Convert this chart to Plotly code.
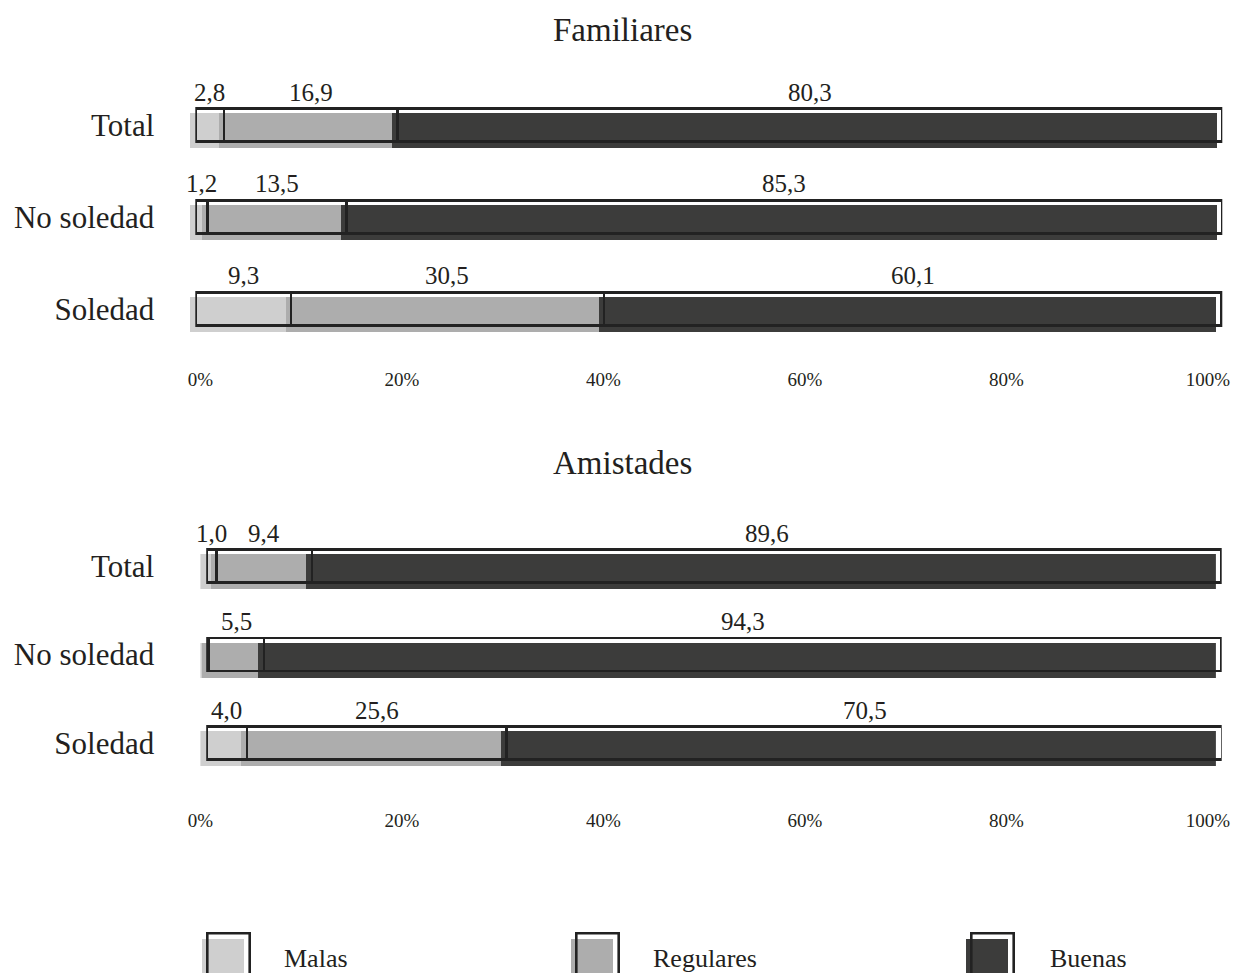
import plotly.graph_objects as go

# ---- data -------------------------------------------------------------
categories = ["Total", "No soledad", "Soledad"]
levels = ["Malas", "Regulares", "Buenas"]

fam_malas = [2.8, 1.2, 9.3]
fam_regulares = [16.9, 13.5, 30.5]
fam_buenas = [80.3, 85.3, 60.1]

ami_malas = [1.0, 0.2, 4.0]
ami_regulares = [9.4, 5.5, 25.6]
ami_buenas = [89.6, 94.3, 70.5]

tick_vals = [0, 20, 40, 60, 80, 100]
tick_text = ["0%", "20%", "40%", "60%", "80%", "100%"]

panel_titles = ["Familiares", "Amistades"]

# ---- style ------------------------------------------------------------
W, H = 1240, 973
FONT = "Liberation Serif, Times New Roman, serif"
INK = "#231f20"
OUTLINE = "#222222"
fills = {"Malas": "#cfcfcf", "Regulares": "#adadad", "Buenas": "#3c3c3b"}


def xdom(left, right):
    return [left / W, right / W]


def ydom(top, bottom):
    return [1 - bottom / H, 1 - top / H]


# pixel geometry of each panel: (outline x, fill x, outline y, fill y, bar widths)
panels = [
    dict(
        title=panel_titles[0], title_y=30,
        data=[fam_malas, fam_regulares, fam_buenas],
        ox=(195.3, 1222.3), fx=(190.0, 1217.0),
        oy=(79.3, 354.6), fy=(84.9, 360.2),
        ow=0.36, fw=0.381, tick_y=366,
        standoff=40,
    ),
    dict(
        title=panel_titles[1], title_y=463,
        data=[ami_malas, ami_regulares, ami_buenas],
        ox=(206.2, 1221.7), fx=(200.4, 1215.9),
        oy=(521.7, 787.5), fy=(527.4, 793.2),
        ow=0.372, fw=0.395, tick_y=807,
        standoff=51,
    ),
]

fig = go.Figure()
layout = dict(
    width=W, height=H,
    margin=dict(l=0, r=0, t=0, b=0, autoexpand=False),
    paper_bgcolor="white", plot_bgcolor="rgba(0,0,0,0)",
    barmode="stack", showlegend=False,
    font=dict(family=FONT, color=INK),
)
annotations = []
shapes = []

cat_axis = dict(
    type="category", categoryorder="array", categoryarray=categories[::-1],
    range=[-0.5, 2.5], showgrid=False, zeroline=False, showline=False,
    ticks="", fixedrange=True, automargin=False,
)
val_axis = dict(range=[0, 100], showgrid=False, zeroline=False,
                showline=False, ticks="", showticklabels=False,
                fixedrange=True, automargin=False)


def axis_key(a):
    letter, num = a[0], a[1:]
    return f"{letter}axis" + ("" if num == "1" else num)


for i, p in enumerate(panels):
    n = 4 * i
    fxa, fya = f"x{n + 1}", f"y{n + 1}"      # filled bars
    oxa, oya = f"x{n + 2}", f"y{n + 2}"      # outlined bars
    txa = f"x{n + 3}"                         # percentage scale

    layout[axis_key(fxa)] = dict(val_axis, domain=xdom(*p["fx"]), anchor=fya)
    layout[axis_key(fya)] = dict(cat_axis, domain=ydom(*p["fy"]), anchor=fxa,
                                 showticklabels=False)
    layout[axis_key(oxa)] = dict(val_axis, domain=xdom(*p["ox"]), anchor=oya)
    layout[axis_key(oya)] = dict(cat_axis, domain=ydom(*p["oy"]), anchor=oxa,
                                 showticklabels=True,
                                 ticklabelstandoff=p["standoff"],
                                 tickfont=dict(family=FONT, size=31, color=INK))
    layout[axis_key(txa)] = dict(
        range=[0, 100], domain=xdom(200.4, 1208.0), anchor="free",
        position=1 - p["tick_y"] / H, showgrid=False, zeroline=False,
        showline=False, ticks="", tickmode="array", tickvals=tick_vals,
        ticktext=tick_text, tickfont=dict(family=FONT, size=19, color=INK),
        fixedrange=True, automargin=False,
    )

    for lvl, vals in zip(levels, p["data"]):
        fig.add_trace(go.Bar(
            orientation="h", y=categories, x=vals, name=lvl,
            xaxis=fxa, yaxis=fya, width=p["fw"],
            marker=dict(color=fills[lvl], line=dict(width=0)),
            hoverinfo="skip",
        ))
    for lvl, vals in zip(levels, p["data"]):
        fig.add_trace(go.Bar(
            orientation="h", y=categories, x=vals, name=lvl,
            xaxis=oxa, yaxis=oya, width=p["ow"],
            marker=dict(color="rgba(0,0,0,0)",
                        line=dict(width=2.6, color=OUTLINE)),
            hoverinfo="skip",
        ))
    # carrier for the percentage scale
    fig.add_trace(go.Scatter(
        x=[tick_vals[0], tick_vals[-1]], y=[categories[0], categories[0]],
        xaxis=txa, yaxis=oya, mode="lines", line=dict(width=0),
        hoverinfo="skip",
    ))

    # value labels above each outlined segment
    for r, cat in enumerate(categories):
        start = 0.0
        for vals in p["data"]:
            v = vals[r]
            if v >= 0.5:
                annotations.append(dict(
                    x=start + v / 2, y=cat, xref=oxa, yref=oya,
                    text=f"{v:.1f}".replace(".", ","), showarrow=False,
                    yanchor="middle", yshift=33,
                    font=dict(family=FONT, size=25, color=INK),
                ))
            start += v

    annotations.append(dict(
        x=622 / W, y=1 - p["title_y"] / H, xref="paper", yref="paper",
        text=p["title"], showarrow=False, xanchor="center", yanchor="middle",
        font=dict(family=FONT, size=33, color=INK),
    ))

# ---- legend -----------------------------------------------------------
legend_box_left = [206, 575, 970]
legend_text_left = [282, 651, 1048]
for lvl, bx, tx in zip(levels, legend_box_left, legend_text_left):
    shapes.append(dict(
        type="rect", xref="paper", yref="paper",
        x0=(bx - 4) / W, x1=(bx + 38) / W,
        y0=1 - 1000 / H, y1=1 - 939 / H,
        fillcolor=fills[lvl], line=dict(width=0),
    ))
    shapes.append(dict(
        type="rect", xref="paper", yref="paper",
        x0=(bx + 1.3) / W, x1=(bx + 43.7) / W,
        y0=1 - 1000 / H, y1=1 - 933.3 / H,
        fillcolor="rgba(0,0,0,0)", line=dict(width=2.6, color=OUTLINE),
    ))
    annotations.append(dict(
        x=tx / W, y=1 - 958 / H, xref="paper", yref="paper", text=lvl,
        showarrow=False, xanchor="left", yanchor="middle",
        font=dict(family=FONT, size=26, color=INK),
    ))

layout["annotations"] = annotations
layout["shapes"] = shapes
fig.update_layout(**layout)
fig.write_html("out.html")
